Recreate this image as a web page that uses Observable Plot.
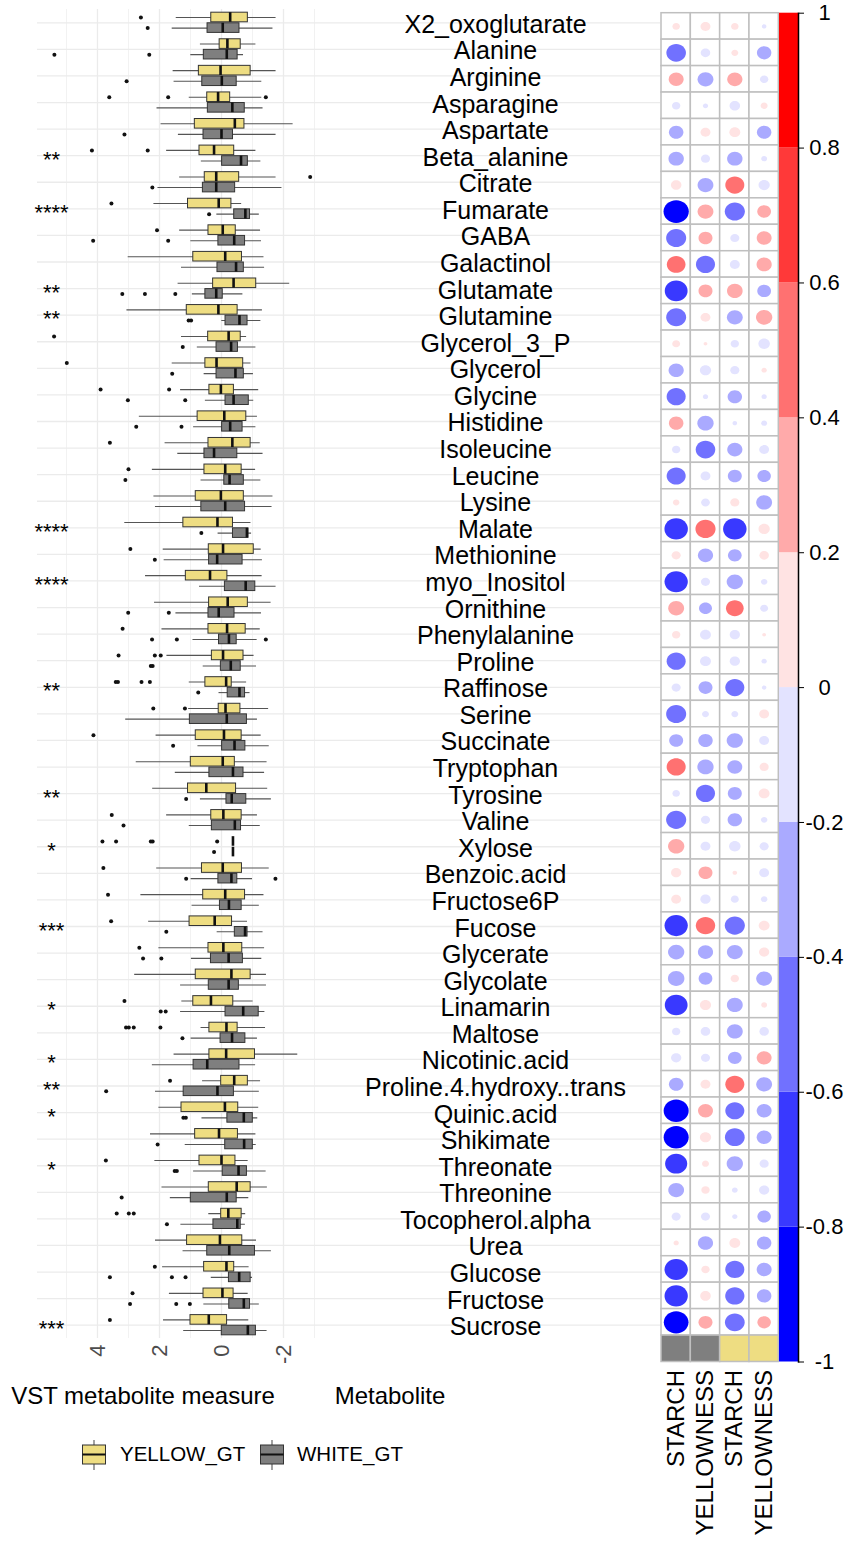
<!DOCTYPE html>
<html><head><meta charset="utf-8">
<script src="https://cdn.jsdelivr.net/npm/d3@7"></script>
<script src="https://cdn.jsdelivr.net/npm/@observablehq/plot@0.6"></script>
<style>
body{margin:0;background:#fff;font-family:"Liberation Sans",Arial,Helvetica,sans-serif;}
#root{position:relative;width:846px;height:1542px;overflow:hidden;background:#fff;}
.panel{position:absolute;top:0;}
.ttl{position:absolute;font-size:24px;line-height:1;color:#000;white-space:nowrap;}
.leg{position:absolute;font-size:20.5px;line-height:1;color:#000;white-space:nowrap;}
</style></head><body><div id="root"></div>
<script>
// ---------------- data ----------------
const names = ["X2_oxoglutarate","Alanine","Arginine","Asparagine","Aspartate","Beta_alanine","Citrate","Fumarate","GABA","Galactinol","Glutamate","Glutamine","Glycerol_3_P","Glycerol","Glycine","Histidine","Isoleucine","Leucine","Lysine","Malate","Methionine","myo_Inositol","Ornithine","Phenylalanine","Proline","Raffinose","Serine","Succinate","Tryptophan","Tyrosine","Valine","Xylose","Benzoic.acid","Fructose6P","Fucose","Glycerate","Glycolate","Linamarin","Maltose","Nicotinic.acid","Proline.4.hydroxy..trans","Quinic.acid","Shikimate","Threonate","Threonine","Tocopherol.alpha","Urea","Glucose","Fructose","Sucrose"];

// [lower whisker, Q1, median, Q3, upper whisker]
const yellowStats = [
[-1.76,-0.85,-0.28,0.33,1.46],[-1.11,-0.62,-0.19,0.06,0.68],[-1.76,-0.94,0.03,0.73,1.56],[-1.30,-0.28,0.11,0.46,1.04],[-2.31,-0.74,-0.43,0.86,1.95],
[-1.11,-0.41,0.24,0.71,1.77],[-1.76,-0.57,0.17,0.54,1.35],[-0.65,-0.32,0.09,1.08,2.18],[-1.26,-0.46,-0.04,0.42,1.35],[-1.37,-0.66,-0.12,0.91,3.01],
[-2.20,-1.12,-0.39,0.27,1.40],[-1.32,-0.52,0.10,1.12,3.05],[-0.81,-0.62,-0.23,0.43,1.29],[-0.95,-0.70,0.16,0.52,1.59],[-1.20,-0.40,0.02,0.39,1.32],
[-1.16,-0.80,-0.09,0.77,2.65],[-1.25,-0.94,-0.35,0.42,1.82],[-1.10,-0.65,-0.12,0.55,2.23],[-1.66,-0.72,0.02,0.83,2.18],[-0.95,-0.37,0.13,1.23,3.12],
[-1.28,-1.04,-0.05,0.41,1.88],[-1.31,-0.19,0.37,1.15,2.45],[-1.60,-0.85,-0.20,0.40,2.16],[-1.25,-0.78,-0.18,0.42,1.92],[-1.05,-0.71,-0.05,0.31,1.76],
[-0.81,-0.33,-0.15,0.52,1.04],[-1.52,-0.61,-0.13,0.09,1.06],[-1.28,-0.65,-0.08,0.83,2.11],[-1.47,-0.43,-0.04,0.99,2.75],[-1.49,-0.47,0.49,1.08,2.22],
[-1.16,-0.65,-0.06,0.33,1.77],[-0.37,-0.37,-0.37,-0.37,-0.37],[-1.54,-0.66,-0.04,0.63,2.09],[-1.37,-0.76,-0.12,0.59,2.60],[-0.84,-0.34,0.22,1.03,2.35],
[-1.39,-0.67,-0.06,0.42,2.02],[-1.45,-0.94,-0.32,0.83,2.80],[-1.02,-0.38,0.34,0.91,1.28],[-1.42,-0.52,-0.16,0.39,0.66],[-2.46,-1.08,-0.15,0.39,1.53],
[-1.26,-0.85,-0.41,0.01,0.61],[-1.20,-0.54,-0.11,1.29,2.02],[-1.11,-0.53,0.08,0.85,2.29],[-0.86,-0.45,0.00,0.71,2.15],[-1.48,-0.94,-0.49,0.41,1.92],
[-0.78,-0.65,-0.22,0.01,0.41],[-1.13,-0.67,0.05,1.11,2.13],[-0.89,-0.41,-0.16,0.56,1.90],[-0.86,-0.39,-0.03,0.58,1.68],[-0.88,-0.18,0.41,1.00,1.87]];

const whiteStats = [
[-1.66,-0.58,-0.04,0.45,1.59],[-0.71,-0.52,-0.17,0.57,0.99],[-1.30,-0.49,-0.01,0.62,1.53],[-1.34,-0.75,-0.35,0.44,2.08],[-1.76,-0.37,0.00,0.58,1.39],
[-1.27,-0.85,-0.63,-0.02,0.65],[-1.95,-0.44,0.17,0.60,2.05],[-1.22,-0.92,-0.77,-0.41,0.15],[-1.29,-0.76,-0.41,0.10,0.99],[-1.39,-0.72,-0.47,0.13,1.29],
[-0.69,-0.04,0.17,0.52,0.94],[-1.27,-0.84,-0.58,-0.13,-0.01],[-1.11,-0.53,-0.31,0.16,0.78],[-1.03,-0.72,-0.45,0.16,0.56],[-1.04,-0.88,-0.39,-0.13,0.52],
[-1.11,-0.68,-0.28,-0.02,0.90],[-1.34,-0.51,0.24,0.55,1.41],[-1.27,-0.72,-0.26,-0.09,0.66],[-1.63,-0.76,-0.12,0.65,2.13],[-0.97,-0.87,-0.82,-0.37,0.11],
[-1.32,-0.68,0.14,0.40,1.85],[-1.76,-1.09,-0.78,-0.11,0.71],[-1.29,-0.42,0.09,0.42,1.47],[-1.15,-0.49,-0.24,0.08,0.92],[-1.13,-0.62,-0.30,0.02,0.59],
[-0.92,-0.76,-0.58,-0.20,0.08],[-1.16,-0.82,-0.17,1.02,3.09],[-1.54,-0.77,-0.42,-0.02,0.76],[-1.39,-0.71,-0.37,0.39,1.49],[-1.61,-0.80,-0.33,-0.16,0.68],
[-1.25,-0.63,-0.43,0.31,1.04],[-0.37,-0.37,-0.37,-0.37,-0.37],[-1.00,-0.51,-0.32,0.10,0.98],[-1.22,-0.65,-0.24,0.05,0.95],[-1.34,-0.84,-0.76,-0.43,0.14],
[-1.30,-0.69,-0.23,0.34,0.97],[-1.45,-0.56,-0.23,0.41,1.32],[-1.40,-1.20,-0.70,-0.13,1.32],[-1.16,-0.77,-0.34,0.03,0.98],[-1.10,-0.58,0.46,0.90,2.23],
[-1.22,-0.40,0.13,1.22,2.13],[-1.17,-1.01,-0.72,-0.19,0.63],[-1.12,-1.01,-0.73,-0.12,1.17],[-1.44,-0.82,-0.55,-0.04,0.90],[-0.88,-0.49,-0.17,0.99,1.65],
[-0.77,-0.62,-0.51,0.26,1.31],[-1.61,-1.08,-0.25,0.46,1.24],[-1.00,-0.94,-0.57,-0.24,0.33],[-1.22,-0.92,-0.72,-0.25,0.57],[-1.47,-1.11,-0.85,-0.01,1.22]];

const yellowOutliers = [[2.60],[],[],[3.62,1.72,-1.43],[],[4.18,2.38],[-2.86],[3.55],[2.08],[],
[],[],[5.40],[4.99],[3.90,1.69],[],[3.60],[3.00],[],[],
[2.94],[],[],[3.19],[3.32,2.15,1.96],[3.41,3.34,2.58,2.31],[2.20,1.18],[4.13],[],[],
[3.54],[3.84,3.40,2.28,2.22,0.14],[3.81],[3.66],[3.56],[2.65],[],[3.13],[3.08,2.99,2.83,1.97],[],
[1.66],[],[],[3.73],[],[3.38,2.99,2.83],[],[2.15],[2.87],[3.60]];

const whiteOutliers = [[2.38],[5.39,2.33],[3.06],[],[3.13],[],[2.23],[0.40],[4.14,1.72],[],
[3.20,2.47,1.49],[1.06,0.98],[1.25],[1.59],[3.02,1.17],[2.75,1.29],[],[3.10],[],[0.65],
[2.15],[],[3.01,1.70],[2.24,1.44,-1.43],[2.28,2.22],[0.75],[],[1.56],[],[1.14],
[3.16],[0.24],[1.14,-1.74],[],[1.78],[2.53,1.94],[],[1.96,1.80],[1.26],[],
[3.72],[1.23,1.15],[2.06],[1.51,1.44],[3.22],[1.76],[],[3.60,1.60,1.16],[2.95,1.46,1.02],[]];

const signif = ["","","","","","**","","****","","","**","**","","","","","","","","****",
"","****","","","","**","","","","**","","*","","","***","","","*","","*",
"**","*","","*","","","","","","***"];

const corrStarchWhite = [0.08,-0.55,0.32,-0.10,-0.30,-0.34,0.16,-0.92,-0.58,0.50,-0.75,-0.57,0.09,-0.33,-0.52,0.30,-0.10,-0.52,0.06,-0.79,0.12,-0.78,0.36,0.10,-0.52,-0.12,-0.58,-0.28,0.52,-0.08,-0.58,0.38,0.15,0.14,-0.78,-0.38,-0.39,-0.75,-0.10,-0.15,-0.30,-0.90,-0.90,-0.70,-0.36,-0.12,0.04,-0.78,-0.78,-0.88];
const corrYellowWhite = [0.14,-0.13,-0.36,-0.04,0.14,-0.12,-0.36,0.36,0.28,-0.52,0.28,0.14,0.02,-0.18,-0.04,-0.38,-0.55,-0.14,-0.11,0.58,-0.33,-0.12,-0.24,-0.17,-0.17,-0.28,-0.07,-0.30,-0.38,-0.52,-0.12,-0.14,0.28,-0.15,0.54,-0.33,-0.27,0.18,-0.13,-0.12,0.14,0.32,0.18,0.07,0.10,-0.12,-0.33,0.10,0.16,0.28];
const corrStarchYellow = [0.08,0.07,0.33,-0.16,0.17,-0.34,0.52,-0.58,-0.12,-0.14,0.35,-0.36,-0.10,-0.12,-0.30,-0.03,-0.33,-0.28,0.12,-0.79,-0.27,-0.38,0.45,-0.15,-0.15,-0.52,-0.07,-0.38,-0.32,-0.28,-0.30,-0.19,0.03,-0.09,-0.58,-0.36,0.10,-0.36,-0.36,-0.27,0.52,-0.52,-0.56,-0.38,-0.05,-0.04,0.17,-0.52,-0.53,-0.56];
const corrYellowYellow = [-0.03,-0.30,-0.10,0.07,-0.30,-0.05,-0.18,0.27,0.32,0.33,-0.27,0.38,-0.19,0.04,-0.04,-0.05,-0.14,-0.26,-0.36,0.18,0.13,-0.06,-0.09,0.02,-0.04,-0.03,0.14,-0.14,0.12,0.17,-0.06,-0.12,-0.14,-0.06,0.17,0.15,-0.36,0.05,-0.13,0.32,-0.36,-0.32,-0.32,-0.12,-0.15,-0.26,-0.30,-0.32,-0.30,0.26];

const corrColumns = ["W_STARCH","W_YELLOWNESS","Y_STARCH","Y_YELLOWNESS"];
const groups = ["YELLOW_GT","WHITE_GT"];
const xTicks = [4,2,0,-2];
const xMinorTicks = [5,3,1,-1,-3];
const colorBreaks = [-0.8,-0.6,-0.4,-0.2,0,0.2,0.4,0.6,0.8];
const colorBarTicks = [-1,-0.8,-0.6,-0.4,-0.2,0,0.2,0.4,0.6,0.8,1];
const palette = ["#0000FF","#3939FF","#7171FF","#AAAAFF","#E3E3FF","#FFE3E3","#FFAAAA","#FF7171","#FF3939","#FF0000"];

// ---------------- styling ----------------
const YEL = "#EEDD82", GRY = "#7F7F7F";
const FONT = '"Liberation Sans", Arial, Helvetica, sans-serif';
const GRID = "#EBEBEB";
const root = document.getElementById("root");
function place(el, left, top){const d=document.createElement("div");d.className="panel";d.style.left=left+"px";d.style.top=top+"px";d.appendChild(el);root.appendChild(d);return d;}

// ---------------- boxplot panel ----------------
const TOP = 9, BOT = 1338, H1 = 1400;
const BAND = (BOT - TOP) / names.length;
const OFF = 5.3, BH = 9.6;
const inA = BAND/2 - OFF - BH/2, inB = BAND/2 + OFF - BH/2;
const toRows = (stats) => names.map((n,i)=>({name:n,min:stats[i][0],q1:stats[i][1],med:stats[i][2],q3:stats[i][3],max:stats[i][4]}));
const boxY = toRows(yellowStats), boxW = toRows(whiteStats);
const outY = names.flatMap((n,i)=>yellowOutliers[i].map(v=>({name:n,v})));
const outW = names.flatMap((n,i)=>whiteOutliers[i].map(v=>({name:n,v})));
const sigRows = names.map((n,i)=>({name:n,s:signif[i]})).filter(d=>d.s);

const left = Plot.plot({
  width: 330, height: H1, marginLeft: 37, marginRight: 0, marginTop: TOP, marginBottom: H1 - BOT,
  style: {fontFamily: FONT, background: "transparent"},
  x: {domain: [5.935, -3.516]},
  y: {type: "band", domain: names, padding: 0, round: false, axis: null},
  marks: [
    Plot.ruleX(xMinorTicks, {stroke: GRID, strokeWidth: 0.7}),
    Plot.ruleX(xTicks, {stroke: GRID, strokeWidth: 1.3}),
    Plot.ruleY(names, {y: d=>d, stroke: GRID, strokeWidth: 1.3}),
    Plot.ruleY(boxY, {y: "name", x1: "min", x2: "max", dy: -OFF, stroke: "#555", strokeWidth: 1.1}),
    Plot.ruleY(boxW, {y: "name", x1: "min", x2: "max", dy: OFF, stroke: "#555", strokeWidth: 1.1}),
    Plot.barX(boxY, {y: "name", x1: "q1", x2: "q3", fill: YEL, stroke: "#333", strokeWidth: 1, insetTop: inA, insetBottom: inB}),
    Plot.barX(boxW, {y: "name", x1: "q1", x2: "q3", fill: GRY, stroke: "#333", strokeWidth: 1, insetTop: inB, insetBottom: inA}),
    Plot.tickX(boxY, {y: "name", x: "med", stroke: "#111", strokeWidth: 2.6, insetTop: inA, insetBottom: inB}),
    Plot.tickX(boxW, {y: "name", x: "med", stroke: "#111", strokeWidth: 2.6, insetTop: inB, insetBottom: inA}),
    Plot.dot(outY, {x: "v", y: "name", dy: -OFF, r: 2, fill: "#111"}),
    Plot.dot(outW, {x: "v", y: "name", dy: OFF, r: 2, fill: "#111"}),
    Plot.text(sigRows, {y: "name", text: "s", frameAnchor: "left", dx: 14, textAnchor: "middle", fontSize: 22, dy: 4, fill: "#000"}),
    Plot.axisX(xTicks, {anchor: "bottom", tickSize: 0, tickPadding: 6, tickRotate: -90, fontSize: 22, fill: "#4D4D4D", tickFormat: d => String(d), label: null})
  ]
});
place(left, 0, 0);

// ---------------- label panel ----------------
const mid = Plot.plot({
  width: 330, height: H1, marginLeft: 0, marginRight: 0, marginTop: TOP, marginBottom: H1 - BOT,
  style: {fontFamily: FONT, background: "transparent"},
  y: {type: "band", domain: names, padding: 0, round: false, axis: null},
  marks: [
    Plot.ruleY(names, {y: d=>d, stroke: GRID, strokeWidth: 1.3}),
    Plot.text(names, {y: d=>d, text: d=>d, frameAnchor: "middle", fontSize: 25, dy: 2, fill: "#000"})
  ]
});
place(mid, 330, 0);

// ---------------- correlation panel ----------------
const CT = 12.7, CB = 1361.5, CL = 661, CR = 778.3;
const cellW = (CR - CL) / 4, cellH = (CB - CT) / (names.length + 1);
const KX = Math.sqrt(cellW / cellH), KY = 1 / KX;
const ellipse = {draw(ctx, size){
  const r = Math.sqrt(size / Math.PI), rx = r*KX, ry = r*KY, k = 0.5522847498;
  ctx.moveTo(rx,0);
  ctx.bezierCurveTo(rx,ry*k,rx*k,ry,0,ry);
  ctx.bezierCurveTo(-rx*k,ry,-rx,ry*k,-rx,0);
  ctx.bezierCurveTo(-rx,-ry*k,-rx*k,-ry,0,-ry);
  ctx.bezierCurveTo(rx*k,-ry,rx,-ry*k,rx,0);
  ctx.closePath();
}};
const corrCols = [corrStarchWhite, corrYellowWhite, corrStarchYellow, corrYellowYellow];
const cells = names.flatMap((n,i)=>corrColumns.map((c,j)=>({name:n, col:c, r:corrCols[j][i]})));
const Rmax = 0.45 * Math.sqrt(cellW * cellH);
const corrLeft = 660, corrWidth = 119;
const corr = Plot.plot({
  width: corrWidth, height: 1542, marginLeft: CL - corrLeft, marginRight: corrLeft + corrWidth - CR, marginTop: CT, marginBottom: 1542 - CB,
  style: {fontFamily: FONT, background: "transparent"},
  x: {type: "band", domain: corrColumns, padding: 0, round: false},
  y: {type: "band", domain: [...names, "group"], padding: 0, round: false, axis: null},
  color: {type: "threshold", domain: colorBreaks, range: palette},
  r: {type: "sqrt", domain: [0, 1], range: [0, Rmax]},
  marks: [
    Plot.cell(cells, {x: "col", y: "name", fill: "white", stroke: "#BFBFBF", strokeWidth: 1.5, inset: 0}),
    Plot.cell(corrColumns.slice(0,2), {x: d=>d, y: () => "group", fill: GRY, stroke: "#BFBFBF", strokeWidth: 1.5, inset: 0}),
    Plot.cell(corrColumns.slice(2), {x: d=>d, y: () => "group", fill: YEL, stroke: "#BFBFBF", strokeWidth: 1.5, inset: 0}),
    Plot.dot(cells, {x: "col", y: "name", r: d => Math.abs(d.r), fill: "r", symbol: ellipse, stroke: "none"}),
    Plot.axisX({anchor: "bottom", tickSize: 0, tickPadding: 8, tickRotate: -90, fontSize: 24, fill: "#000", tickFormat: d => d.split("_")[1], label: null})
  ]
});
place(corr, corrLeft, 0);

// ---------------- colour bar ----------------
const binLows = colorBarTicks.slice(0, -1);
const cbar = Plot.plot({
  width: 67, height: 1542, marginLeft: 0, marginRight: 48, marginTop: CT, marginBottom: 1542 - CB,
  style: {fontFamily: FONT, background: "transparent"},
  x: {domain: [0, 1], axis: null},
  y: {domain: [-1, 1], axis: null},
  color: {type: "threshold", domain: colorBreaks, range: palette},
  marks: [
    Plot.rect(binLows, {x1: 0, x2: 1, y1: d => d, y2: d => d + 0.2, fill: d => d + 0.1}),
    Plot.frame({anchor: "right", stroke: "#000", strokeWidth: 1.5}),
    Plot.axisY(colorBarTicks, {anchor: "right", tickSize: 5, tickPadding: 21, textAnchor: "middle", fontSize: 22, fill: "#000", stroke: "#000", tickFormat: d => String(+d.toFixed(1)), label: null})
  ]
});
place(cbar, 779, 0);

// ---------------- titles & legend ----------------
function addText(cls, txt, x, top, anchor){const d=document.createElement("div");d.className=cls;d.textContent=txt;d.style.top=top+"px";
  d.style.left=x+"px"; if(anchor==="middle"){d.style.transform="translateX(-50%)";}
  root.appendChild(d);return d;}
addText("ttl","VST metabolite measure",143,1384,"middle");
addText("ttl","Metabolite",390,1384,"middle");

function key(fill){
  const ns="http://www.w3.org/2000/svg";
  const s=document.createElementNS(ns,"svg");s.setAttribute("width","24");s.setAttribute("height","30");
  s.innerHTML=`<line x1="12" x2="12" y1="0" y2="30" stroke="#555" stroke-width="1.1"/><rect x="0.5" y="5" width="23" height="19" fill="${fill}" stroke="#333" stroke-width="1"/><line x1="0.5" x2="23.5" y1="14.5" y2="14.5" stroke="#111" stroke-width="2"/>`;
  const d=document.createElement("div");d.className="panel";d.appendChild(s);return d;}
const k1=key(YEL);k1.style.left="82px";k1.style.top="1440px";root.appendChild(k1);
const k2=key(GRY);k2.style.left="260px";k2.style.top="1440px";root.appendChild(k2);
addText("leg",groups[0],120,1444,"start");
addText("leg",groups[1],297,1444,"start");
</script></body></html>
